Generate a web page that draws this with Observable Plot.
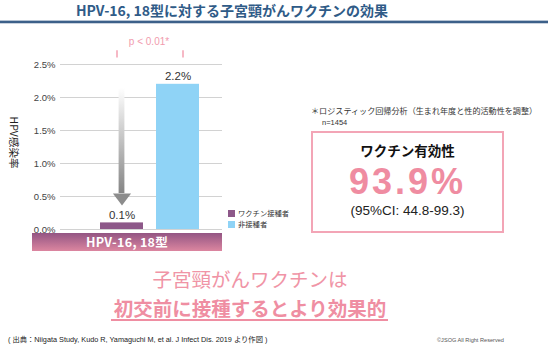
<!DOCTYPE html>
<html><head><meta charset="utf-8">
<script src="https://cdn.jsdelivr.net/npm/d3@7"></script>
<script src="https://cdn.jsdelivr.net/npm/@observablehq/plot@0.6"></script>
<style>
body{margin:0;background:#fff;font-family:"Liberation Sans","Noto Sans CJK JP",sans-serif;}
#wrap{position:relative;width:548px;height:353px;overflow:hidden;background:#fff;}
.abs{position:absolute;white-space:nowrap;}
</style></head>
<body><div id="wrap">
<div class="abs" style="left:0;top:2px;width:464px;text-align:center;font-weight:bold;font-size:14px;color:#2f5b87;font-family:'Noto Sans CJK JP',sans-serif;line-height:16px;">HPV-16, 18型に対する子宮頸がんワクチンの効果</div>
<div class="abs" style="left:0;top:20px;width:548px;height:0;border-top:1px solid #b5c3d3;"></div>
<div class="abs" style="left:0;top:21px;width:548px;height:2px;background:#3c6089;"></div>
<div class="abs" style="left:0;top:23px;width:548px;height:0;border-top:1px solid #c9d2de;"></div>
<div id="chart" class="abs" style="left:0;top:0;"></div>
<div class="abs" style="left:-22px;top:136px;width:72px;text-align:center;transform:rotate(90deg);font-size:10.5px;color:#222;font-family:'Noto Sans CJK JP',sans-serif;line-height:13px;">HPV感染率</div>
<div class="abs" style="left:108px;top:36px;width:82px;text-align:center;font-size:10px;color:#f19bae;line-height:12px;">p &lt; 0.01*</div>
<div class="abs" style="left:32px;top:233px;width:190px;height:18px;background:linear-gradient(#935583,#dc86a0);color:#fff;font-weight:bold;font-size:12.5px;line-height:18px;text-align:center;font-family:'Noto Sans CJK JP',sans-serif;letter-spacing:0.3px;">HPV-16, 18型</div>
<div id="legend" class="abs" style="left:228px;top:208px;font-size:7.3px;color:#333;font-family:'Noto Sans CJK JP',sans-serif;line-height:11px;"></div>
<div class="abs" style="left:311px;top:105px;font-size:8.1px;color:#333;font-family:'Noto Sans CJK JP',sans-serif;line-height:11px;">＊ロジスティック回帰分析（生まれ年度と性的活動性を調整）</div>
<div class="abs" style="left:322px;top:117px;font-size:7.5px;color:#333;line-height:11px;">n=1454</div>
<div class="abs" style="left:311px;top:131px;width:189px;height:98px;border:2px solid #f3a5b6;"></div>
<div class="abs" style="left:311px;top:141px;width:193px;text-align:center;font-weight:bold;font-size:13.5px;color:#111;font-family:'Noto Sans CJK JP',sans-serif;line-height:19.5px;">ワクチン有効性</div>
<div class="abs" style="left:311px;top:161.5px;width:193px;text-align:center;font-weight:bold;font-size:36px;color:#ef8ca1;line-height:40px;letter-spacing:3px;">93.9%</div>
<div class="abs" style="left:311px;top:203px;width:193px;text-align:center;font-size:13.5px;color:#222;line-height:15px;">(95%CI: 44.8-99.3)</div>
<div class="abs" style="left:0;top:265px;width:500px;text-align:center;font-size:19.5px;color:#f094a6;font-family:'Noto Sans CJK JP',sans-serif;line-height:28px;">子宮頸がんワクチンは</div>
<div class="abs" style="left:0;top:293.5px;width:500px;text-align:center;font-size:19.5px;font-weight:bold;color:#ef8ea2;font-family:'Noto Sans CJK JP',sans-serif;line-height:28px;">初交前に接種するとより効果的</div>
<div class="abs" style="left:111px;top:319px;width:277px;height:1.5px;background:#ef8ea2;"></div>
<div class="abs" style="left:8px;top:335px;font-size:7.3px;color:#222;font-family:'Liberation Sans','Noto Sans CJK JP',sans-serif;line-height:10px;">( 出典：Niigata Study, Kudo R, Yamaguchi M, et al. J Infect Dis. 2019 より作図 )</div>
<div class="abs" style="left:437px;top:336px;font-size:5.6px;color:#555;line-height:8px;">©JSOG All Right Reserved</div>
</div>
<script>
const categories = ["ワクチン接種者", "非接種者"];
const rates = [0.1, 2.2];
const rateLabels = ["0.1%", "2.2%"];
const yTicks = [0, 0.5, 1.0, 1.5, 2.0, 2.5];
const barColors = ["#8d5889", "#8fd3f6"];
const arrowFrom = 2.14;   // arrow start (gradient shaft top), in % units
const arrowShaftEnd = 0.545;
const arrowHeadAt = 0.455;
const bracketBottom = 2.6;
const bracketTop = 2.71;

const data = categories.map((c, i) => ({cat: c, rate: rates[i], label: rateLabels[i]}));

const downTriangle = {
  draw(ctx, size) {
    const w = Math.sqrt(size);
    ctx.moveTo(-w * 0.75, -w * 0.5);
    ctx.lineTo(w * 0.75, -w * 0.5);
    ctx.lineTo(0, w * 0.5);
    ctx.closePath();
  }
};

const chart = Plot.plot({
  width: 230, height: 260,
  marginLeft: 60, marginRight: 8, marginTop: 64, marginBottom: 31,
  style: {fontFamily: "'Liberation Sans', sans-serif", fontSize: "9.5px", color: "#444", background: "transparent"},
  x: {domain: categories, range: [87, 212], padding: 0.23, axis: null},
  y: {domain: [0, 2.5], range: [229, 64], ticks: yTicks, tickFormat: d => d.toFixed(1) + "%", tickSize: 0, tickPadding: 5, label: null},
  color: {domain: categories, range: barColors},
  marks: [
    Plot.ruleY(yTicks, {stroke: "#d2d2d2", strokeWidth: 1}),
    Plot.barY(data, {x: "cat", y: "rate", fill: "cat"}),
    Plot.text(data, {x: "cat", y: "rate", text: "label", dy: -8, fontSize: 11.5, fill: "#333"}),
    Plot.barY([categories[0]], {x: d => d, y1: arrowShaftEnd, y2: arrowFrom, insetLeft: 18.6, insetRight: 18.6, fill: "url(#shaftGrad)"}),
    Plot.dot([categories[0]], {x: d => d, y: arrowHeadAt, symbol: downTriangle, r: 6.8, fill: "#8c8c8c", stroke: null}),
    Plot.ruleX([categories[0]], {x: d => d, y1: bracketBottom, y2: bracketTop, dx: -5, stroke: "#f3a0b2", strokeWidth: 1.5}),
    Plot.ruleX([categories[1]], {x: d => d, y1: bracketBottom, y2: bracketTop, dx: 5, stroke: "#f3a0b2", strokeWidth: 1.5}),
    Plot.ruleY([bracketTop], {x1: categories[0], x2: categories[1], insetLeft: -5.75, insetRight: -5.75, stroke: "#f3a0b2", strokeWidth: 1.5})
  ]
});
d3.select(chart).insert("defs", ":first-child").html(
  '<linearGradient id="shaftGrad" x1="0" y1="0" x2="0" y2="1"><stop offset="0" stop-color="#ffffff"/><stop offset="1" stop-color="#858585"/></linearGradient>'
);
document.getElementById("chart").appendChild(chart);

const legend = d3.select("#legend");
categories.forEach((c, i) => {
  const row = legend.append("div").style("height", "11px").style("display", "flex").style("align-items", "center");
  row.append("span").style("display", "inline-block").style("width", "7px").style("height", "7px").style("margin-right", "3px").style("background", barColors[i]);
  row.append("span").text(c);
});
</script>
</body></html>
